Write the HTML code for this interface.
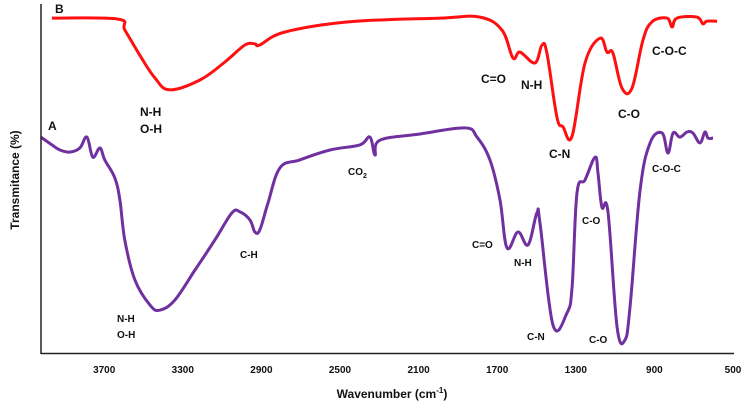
<!DOCTYPE html>
<html><head><meta charset="utf-8"><style>
body{margin:0;background:#fff}
svg text{font-family:"Liberation Sans",sans-serif;font-weight:bold;fill:#111}
</style></head><body>
<svg width="751" height="411" viewBox="0 0 751 411" xmlns="http://www.w3.org/2000/svg">
<g id="marks"></g>
<line x1="41" y1="4" x2="41" y2="354" stroke="#222" stroke-width="1.5"/>
<line x1="41" y1="353.5" x2="734" y2="353.5" stroke="#222" stroke-width="1.5"/>
<g id="ticks" font-size="10"></g>
<text x="392" y="398" font-size="12" text-anchor="middle">Wavenumber (cm<tspan font-size="8" dy="-5">-1</tspan><tspan dy="5">)</tspan></text>
<text transform="translate(19,180) rotate(-90)" font-size="12" text-anchor="middle">Transmitance (%)</text>
<text x="55" y="13" font-size="12">B</text>
<text x="48" y="130" font-size="12">A</text>
<g font-size="12">
<text x="140" y="116">N-H</text><text x="140" y="133">O-H</text>
<text x="481" y="83">C=O</text><text x="521" y="89">N-H</text>
<text x="549" y="158">C-N</text><text x="618" y="118">C-O</text>
<text x="652" y="55">C-O-C</text>
</g>
<g font-size="10">
<text x="117" y="322">N-H</text><text x="117" y="338">O-H</text>
<text x="240" y="258">C-H</text><text x="348" y="175">CO<tspan font-size="7" dy="3">2</tspan></text>
<text x="472" y="248">C=O</text><text x="514" y="266">N-H</text>
<text x="527" y="340">C-N</text><text x="582" y="224">C-O</text>
<text x="589" y="343">C-O</text><text x="652" y="172">C-O-C</text>
</g>
</svg>
<script>
const tickLabels=[3700,3300,2900,2500,2100,1700,1300,900,500];
const redWave=[3966,3630,3595,3519,3442,3366,3213,3086,2984,2933,2908,2780,2450,1991,1788,1676,1620,1584,1508,1472,1447,1396,1365,1319,1253,1177,1141,1111,1065,1014,958,912,836,810,785,684,653,633,581];
const redT=[98.5,98.2,95,87.6,80.9,77.4,80.3,85.6,90.6,90.9,90.6,94.4,97.4,98.5,98.8,95,86.8,88.5,85.3,90.6,88.2,69.4,66.5,63.8,85.3,92.6,88.5,88.2,77.9,77.9,92.1,97.4,98.5,95.9,98.5,98.8,96.8,97.6,97.6];
const purpleWave=[4022,3966,3925,3875,3824,3788,3758,3722,3697,3646,3620,3595,3544,3467,3417,3340,3238,3137,3050,3009,2958,2933,2908,2867,2806,2704,2551,2399,2348,2322,2297,2093,1864,1803,1737,1686,1650,1594,1543,1498,1482,1416,1345,1319,1294,1253,1202,1187,1167,1136,1090,1050,1024,973,922,861,831,805,770,734,704,668,643,627,602];
const purpleT=[63.5,61.2,59.7,59.1,60.3,63.5,57.6,60.3,56.8,51.5,45,33.2,21.5,14.1,12.6,15.6,24.4,33.2,41.2,41.5,39.1,35.6,36.2,44,54.4,56.8,59.7,61.2,63.5,58.2,62.6,64.4,66.2,63.5,56.8,45,30.9,35.6,31.8,41.2,38.2,8.2,11.8,19.4,47.1,50.9,57.6,52.9,42.9,41.5,7.6,3.8,13.5,47.9,61.8,64.7,58.8,64.7,63.5,65,64.7,61.8,65,63.2,63.2];
const NS='http://www.w3.org/2000/svg';
function xs(w){return 733-(w-500)*0.1965;}
function ys(v){return 353-v*3.4;}
const marks=document.getElementById('marks');
function smooth(pts){
  let d='M'+pts[0][0].toFixed(1)+','+pts[0][1].toFixed(1);
  for(let i=0;i<pts.length-1;i++){
    const p0=pts[Math.max(0,i-1)],p1=pts[i],p2=pts[i+1],p3=pts[Math.min(pts.length-1,i+2)];
    const t=0.18;
    const c1=[p1[0]+(p2[0]-p0[0])*t,p1[1]+(p2[1]-p0[1])*t];
    const c2=[p2[0]-(p3[0]-p1[0])*t,p2[1]-(p3[1]-p1[1])*t];
    d+=' C'+c1.map(v=>v.toFixed(1)).join(',')+' '+c2.map(v=>v.toFixed(1)).join(',')+' '+p2[0].toFixed(1)+','+p2[1].toFixed(1);
  }
  return d;
}
function line(ws,ts,color,name){
  const p=document.createElementNS(NS,'path');
  p.setAttribute('d',smooth(ws.map((w,i)=>[xs(w),ys(ts[i])])));
  p.setAttribute('fill','none');p.setAttribute('stroke',color);p.setAttribute('stroke-width','3');
  p.setAttribute('stroke-linejoin','round');
  
  
  marks.appendChild(p);
}
line(redWave,redT,'#ff1010','series-b-line');
line(purpleWave,purpleT,'#7030a0','series-a-line');
const tg=document.getElementById('ticks');
tickLabels.forEach(t=>{
  const el=document.createElementNS(NS,'text');
  el.setAttribute('x',xs(t));el.setAttribute('y',373);el.setAttribute('text-anchor','middle');
  el.textContent=t;
  
  
  tg.appendChild(el);
});
</script>
</body></html>
